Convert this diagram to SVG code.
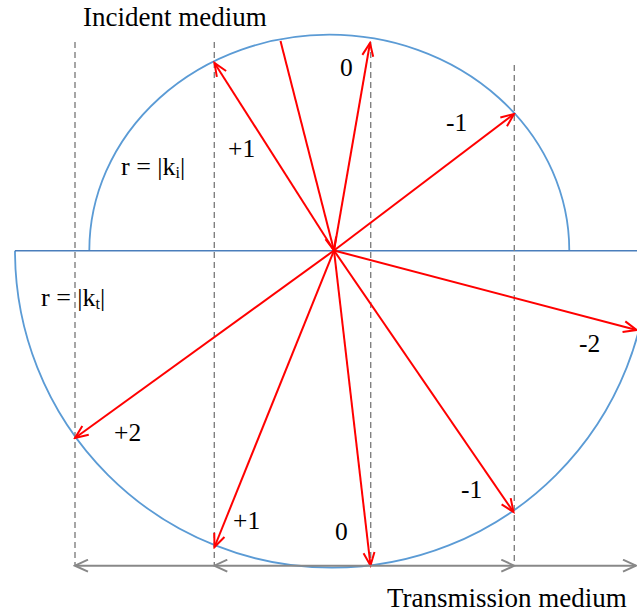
<svg xmlns="http://www.w3.org/2000/svg" width="637" height="614" viewBox="0 0 637 614">
<style>
.arc{fill:none;stroke:#5B9BD5;stroke-width:1.8}
.base{fill:none;stroke:#4A7EBB;stroke-width:1.5}
.dash{fill:none;stroke:#808080;stroke-width:1.4;stroke-dasharray:6 4}
.ray{fill:none;stroke:#FF0000;stroke-width:2;marker-end:url(#ra)}
.axis{fill:none;stroke:#888888;stroke-width:2;marker-end:url(#ga)}
text{font-family:"Liberation Serif","Times New Roman",serif;fill:#000}
.lbl{font-size:25.5px}
.rl{font-size:26px}
.ttl{font-size:27px}
</style>
<defs>
<marker id="ra" markerUnits="userSpaceOnUse" markerWidth="16" markerHeight="14" refX="14" refY="7" orient="auto">
<path d="M1,1.5 L14,7 L1,12.5" fill="none" stroke="#FF0000" stroke-width="2"/>
</marker>
<marker id="ga" markerUnits="userSpaceOnUse" markerWidth="16" markerHeight="14" refX="14" refY="7" orient="auto">
<path d="M1,1 L14,7 L1,13" fill="none" stroke="#888888" stroke-width="2"/>
</marker>
</defs>
<g id="media">
<path id="incident-arc" class="arc" d="M89.3,250.7 A240,216 0 0,1 569.3,250.7"/>
<path id="transmission-arc" class="arc" d="M15,250.7 A317,317 0 1,0 649,250.7"/>
<line id="interface" class="base" x1="15" y1="250.7" x2="637" y2="250.7"/>
</g>
<g id="guides">
<line class="dash" x1="75" y1="42" x2="75" y2="566"/>
<line class="dash" x1="214.3" y1="42" x2="214.3" y2="566"/>
<line class="dash" x1="370.7" y1="42" x2="370.7" y2="566"/>
<line class="dash" x1="514.3" y1="65" x2="514.3" y2="566"/>
</g>
<g id="connectors">
<line class="ray" x1="280.5" y1="41" x2="334" y2="250.5"/>
<line class="ray" x1="334" y1="250.5" x2="214.5" y2="63"/>
<line class="ray" x1="334" y1="250.5" x2="370" y2="43"/>
<line class="ray" x1="334" y1="250.5" x2="514" y2="114"/>
<line class="ray" x1="334" y1="250.5" x2="636.5" y2="330"/>
<line class="ray" x1="334" y1="250.5" x2="75" y2="438"/>
<line class="ray" x1="334" y1="250.5" x2="214.5" y2="547"/>
<line class="ray" x1="334" y1="250.5" x2="370.5" y2="565.5"/>
<line class="ray" x1="334" y1="250.5" x2="513.5" y2="512"/>
<line class="axis" x1="370.7" y1="565.7" x2="214.3" y2="565.7"/>
<line class="axis" x1="214.3" y1="565.7" x2="75" y2="565.7"/>
<line class="axis" x1="370.7" y1="565.7" x2="514.3" y2="565.7"/>
<line class="axis" x1="514.3" y1="565.7" x2="636" y2="565.7"/>
</g>
<g id="labels">
<text class="ttl" x="83" y="26">Incident medium</text>
<text class="ttl" x="387" y="607">Transmission medium</text>
<text class="rl" x="121" y="175">r = |k<tspan font-size="16" dy="3">i</tspan><tspan dy="-3">|</tspan></text>
<text class="rl" x="41" y="306">r = |k<tspan font-size="16" dy="3">t</tspan><tspan dy="-3">|</tspan></text>
<text class="lbl" x="228" y="157">+1</text>
<text class="lbl" x="340" y="76">0</text>
<text class="lbl" x="446" y="131">-1</text>
<text class="lbl" x="579" y="352">-2</text>
<text class="lbl" x="114" y="441">+2</text>
<text class="lbl" x="233" y="529">+1</text>
<text class="lbl" x="335" y="540">0</text>
<text class="lbl" x="461" y="498">-1</text>
</g>
</svg>
